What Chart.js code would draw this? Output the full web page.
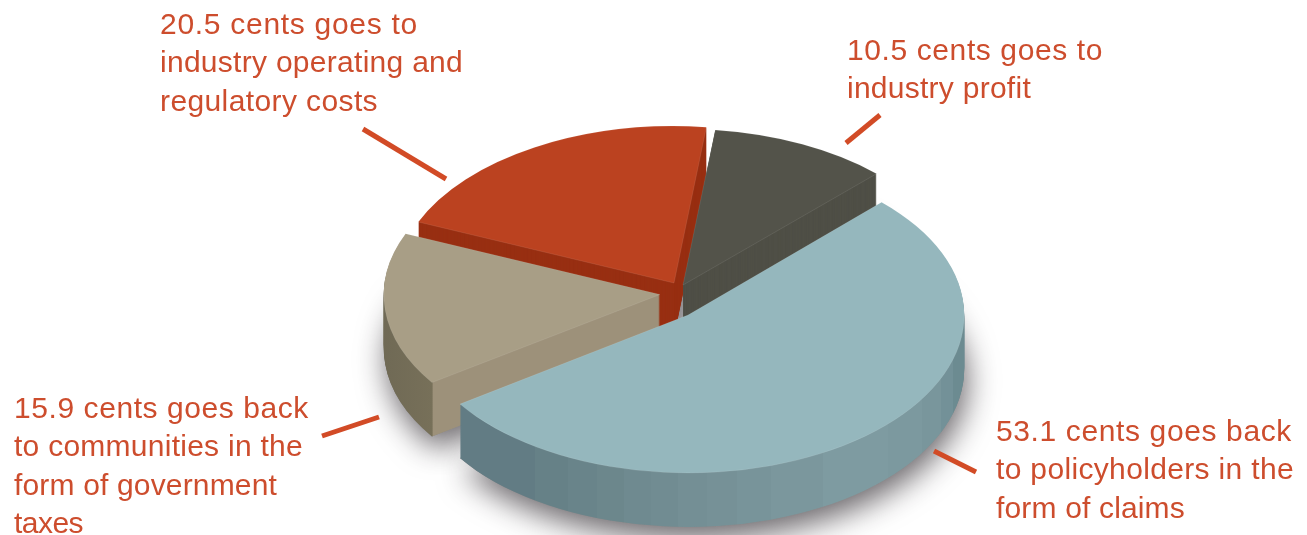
<!DOCTYPE html>
<html>
<head>
<meta charset="utf-8">
<style>
  html, body { margin: 0; padding: 0; background: #fff; overflow: hidden; }
  canvas { display: block; }
</style>
<script src="https://cdn.jsdelivr.net/npm/chart.js@4"></script>
</head>
<body>
<canvas id="pie" width="1307" height="535"></canvas>
<script>
// slices, clockwise from the start angle
const categories = ['Policyholder claims', 'Government taxes', 'Operating and regulatory costs', 'Industry profit'];
const cents = [53.1, 15.9, 20.5, 10.5];
const topColors = ['#95b7bd', '#a89e86', '#bb4220', '#53534a'];

const labelLines = [
  ['53.1 cents goes back', 'to policyholders in the', 'form of claims'],
  ['15.9 cents goes back', 'to communities in the', 'form of government', 'taxes'],
  ['20.5 cents goes to', 'industry operating and', 'regulatory costs'],
  ['10.5 cents goes to', 'industry profit']
];
// set width of every line, the letter spacing is worked out from these
const lineWidths = [
  [296, 298, 189],
  [295, 289, 263, 69],
  [258, 303, 218],
  [256, 184]
];

// layout of the tilted pie
const squash = [0.572, 0.565, 0.565, 0.565];
const depth = 54;
const pieRadius = 279;
const startAngle = 44.5;
const apex = [[688, 315], [660, 294.5], [674, 283], [683, 285]];
const sliceScale = [0.99, 0.99, 0.995, 0.99];
const paintOrder = [2, 3, 1, 0];

// side wall bands, each colour runs up to the matching edge
const blueEdges = [535, 568, 597, 624, 651, 678, 707, 737, 771, 823, 888, 922, 941, 953, 970];
const blueBands = ['#627c84', '#668187', '#69848a', '#6c878c', '#6f8a90', '#718c92', '#748f95', '#769197',
  '#78949a', '#7b979d', '#7e9ba1', '#7c999f', '#79969c', '#739198', '#6c8b91'];

const textColor = '#cd4d2d';
const labelPos = [[996, 441], [14, 418], [160, 34], [847, 60]];
const leaders = [[934, 451, 976, 472], [322, 436, 379, 417], [363, 129, 446, 179], [846, 143, 880, 115]];

function wallFill(ctx, i, arc) {
  const local = x => (x - apex[i][0]) / sliceScale[i] + arc.x;
  if (i === 0) {
    const g = ctx.createLinearGradient(local(460), 0, local(970), 0);
    let from = 460;
    blueEdges.forEach((edge, b) => {
      g.addColorStop((from - 460) / 510, blueBands[b]);
      g.addColorStop((edge - 460) / 510, blueBands[b]);
      from = edge;
    });
    return g;
  }
  if (i === 1) {
    // outer rim is darker than the cut face, the break sits on the slice corner
    const g = ctx.createLinearGradient(local(380), 0, local(670), 0);
    g.addColorStop(0, '#6f6955');
    g.addColorStop(0.18, '#777059');
    g.addColorStop(0.1827, '#9d917a');
    g.addColorStop(1, '#9d917a');
    return g;
  }
  return i === 2 ? '#982f12' : '#4f4f46';
}

const slabPlugin = {
  id: 'slab',
  beforeDatasetDraw(chart, args) {
    const ctx = chart.ctx;
    const arcs = args.meta.data;

    const place = (i, lift) => {
      ctx.translate(apex[i][0], apex[i][1] + lift);
      ctx.scale(sliceScale[i], squash[i] * sliceScale[i]);
      ctx.translate(-arcs[i].x, -arcs[i].y);
    };
    const drawWith = (i, fill) => {
      const own = arcs[i].options;
      arcs[i].options = Object.assign({}, own, { backgroundColor: fill, borderWidth: 0 });
      arcs[i].draw(ctx);
      arcs[i].options = own;
    };

    // soft drop shadow goes down first so it never lands on another slice
    paintOrder.forEach(i => {
      ctx.save();
      ctx.shadowColor = 'rgba(30, 25, 30, 0.65)';
      ctx.shadowBlur = 30;
      ctx.shadowOffsetX = 3;
      ctx.shadowOffsetY = 12;
      place(i, depth);
      drawWith(i, '#888');
      ctx.restore();
    });

    paintOrder.forEach(i => {
      const fill = wallFill(ctx, i, arcs[i]);
      for (let h = depth; h > 0; h--) {
        ctx.save();
        place(i, h);
        drawWith(i, fill);
        ctx.restore();
      }
      ctx.save();
      place(i, 0);
      arcs[i].draw(ctx);
      ctx.restore();
    });
    return false;
  },
  afterDraw(chart) {
    const ctx = chart.ctx;
    ctx.save();
    ctx.strokeStyle = '#d24b26';
    ctx.lineWidth = 5;
    leaders.forEach(l => {
      ctx.beginPath();
      ctx.moveTo(l[0], l[1]);
      ctx.lineTo(l[2], l[3]);
      ctx.stroke();
    });
    ctx.fillStyle = textColor;
    ctx.font = '30px "Liberation Sans"';
    ctx.textBaseline = 'alphabetic';
    labelLines.forEach((lines, i) => {
      lines.forEach((line, n) => {
        ctx.letterSpacing = '0px';
        const gap = (lineWidths[i][n] - ctx.measureText(line).width) / line.length;
        ctx.letterSpacing = gap.toFixed(2) + 'px';
        ctx.fillText(line, labelPos[i][0], labelPos[i][1] + n * 38.4);
      });
    });
    ctx.restore();
  }
};

new Chart(document.getElementById('pie').getContext('2d'), {
  type: 'pie',
  plugins: [slabPlugin],
  data: {
    labels: categories,
    datasets: [{
      data: cents,
      backgroundColor: topColors,
      borderWidth: 0.8,
      borderColor: 'rgba(255, 255, 255, 0.14)',
      clip: false
    }]
  },
  options: {
    responsive: false,
    animation: false,
    rotation: startAngle,
    radius: pieRadius,
    plugins: {
      legend: { display: false },
      tooltip: { enabled: false }
    }
  }
});
</script>
</body>
</html>
